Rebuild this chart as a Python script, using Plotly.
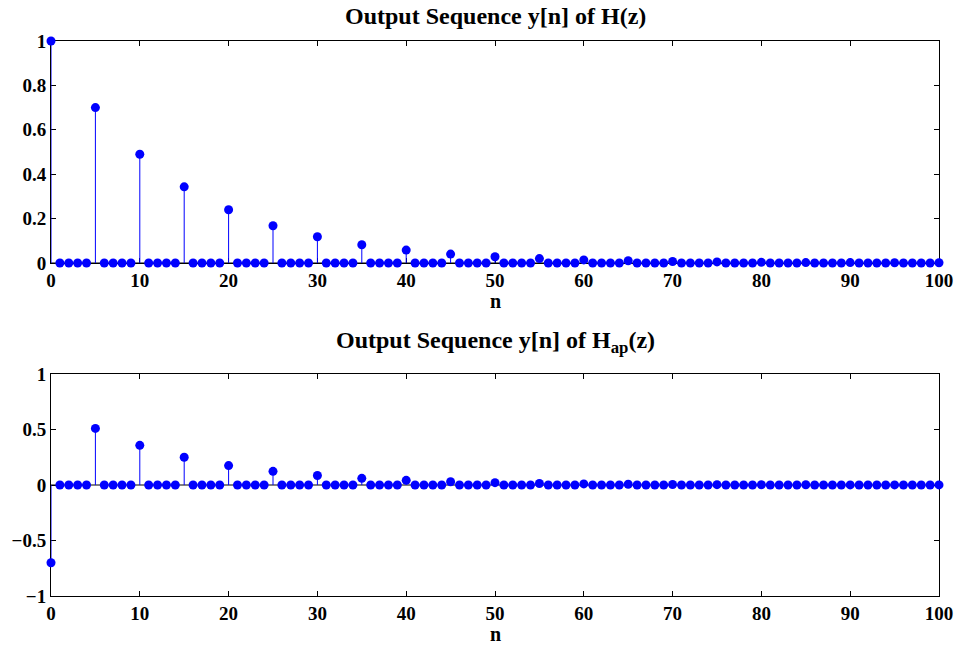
import plotly.graph_objects as go

# Sample index axis
n_values = list(range(0, 101))

# Impulse positions (every 5th sample) and their amplitudes; all other samples are zero
impulse_n = [0, 5, 10, 15, 20, 25, 30, 35, 40, 45, 50,
             55, 60, 65, 70, 75, 80, 85, 90, 95, 100]
h_impulse = [1.0, 0.70, 0.49, 0.343, 0.24, 0.168, 0.118, 0.082, 0.058, 0.040, 0.028,
             0.020, 0.014, 0.010, 0.007, 0.005, 0.003, 0.002, 0.002, 0.001, 0.001]
hap_impulse = [-0.70, 0.51, 0.357, 0.25, 0.175, 0.123, 0.086, 0.060, 0.042, 0.029, 0.021,
               0.014, 0.010, 0.007, 0.005, 0.003, 0.002, 0.002, 0.001, 0.001, 0.001]

x_ticks = [0, 10, 20, 30, 40, 50, 60, 70, 80, 90, 100]
y_ticks_top = [0, 0.2, 0.4, 0.6, 0.8, 1]
y_ticks_bottom = [-1, -0.5, 0, 0.5, 1]


def full_sequence(positions, values):
    seq = [0.0] * len(n_values)
    for p, v in zip(positions, values):
        seq[p] = v
    return seq


def stem_segments(xs, ys):
    sx, sy = [], []
    for x, y in zip(xs, ys):
        sx += [x, x, None]
        sy += [0, y, None]
    return sx, sy


y_h = full_sequence(impulse_n, h_impulse)
y_hap = full_sequence(impulse_n, hap_impulse)

BLUE = "#0000ff"
FONT = "Liberation Serif, Times New Roman, serif"

fig = go.Figure()

for seq, xa, ya in [(y_h, "x", "y"), (y_hap, "x2", "y2")]:
    # baseline
    fig.add_trace(go.Scatter(x=[n_values[0], n_values[-1]], y=[0, 0], mode="lines",
                             line=dict(color="black", width=1), xaxis=xa, yaxis=ya,
                             hoverinfo="skip", showlegend=False, cliponaxis=False))
    sx, sy = stem_segments(n_values, seq)
    fig.add_trace(go.Scatter(x=sx, y=sy, mode="lines", line=dict(color=BLUE, width=1),
                             xaxis=xa, yaxis=ya, hoverinfo="skip", showlegend=False,
                             cliponaxis=False))
    fig.add_trace(go.Scatter(x=n_values, y=seq, mode="markers",
                             marker=dict(color=BLUE, size=9, line=dict(width=0)),
                             xaxis=xa, yaxis=ya, showlegend=False, cliponaxis=False))

tickfont = dict(family=FONT, size=19, color="black", weight="bold")
common_axis = dict(showline=True, linecolor="black", linewidth=1, mirror="ticks",
                   ticks="inside", ticklen=5, tickwidth=1, tickcolor="black",
                   showgrid=False, zeroline=False, tickfont=tickfont, layer="below traces")

fig.update_layout(
    width=965, height=647,
    margin=dict(l=49, r=23, t=41, b=51),
    paper_bgcolor="white", plot_bgcolor="white",
    xaxis=dict(domain=[0, 1], anchor="y", range=[0, 100], tickvals=x_ticks, **common_axis),
    yaxis=dict(domain=[0.6, 1], anchor="x", range=[0, 1], tickvals=y_ticks_top, **common_axis),
    xaxis2=dict(domain=[0, 1], anchor="y2", range=[0, 100], tickvals=x_ticks, **common_axis),
    yaxis2=dict(domain=[0, 0.4], anchor="x2", range=[-1, 1], tickvals=y_ticks_bottom,
                **common_axis),
)

titlefont = dict(family=FONT, size=24, color="black", weight="bold")
labelfont = dict(family=FONT, size=20, color="black", weight="bold")


def px_to_paper(p):
    return (596 - p) / 555


fig.add_annotation(text="Output Sequence y[n] of H(z)", x=0.5, y=px_to_paper(16),
                   xref="paper", yref="paper", xanchor="center", yanchor="middle",
                   showarrow=False, font=titlefont)
fig.add_annotation(text="Output Sequence y[n] of H<sub>ap</sub>(z)", x=0.5, y=px_to_paper(342),
                   xref="paper", yref="paper", xanchor="center", yanchor="middle",
                   showarrow=False, font=titlefont)
fig.add_annotation(text="n", x=0.5, y=px_to_paper(301), xref="paper", yref="paper",
                   xanchor="center", yanchor="middle", showarrow=False, font=labelfont)
fig.add_annotation(text="n", x=0.5, y=px_to_paper(634), xref="paper", yref="paper",
                   xanchor="center", yanchor="middle", showarrow=False, font=labelfont)

fig.write_html("out.html")
